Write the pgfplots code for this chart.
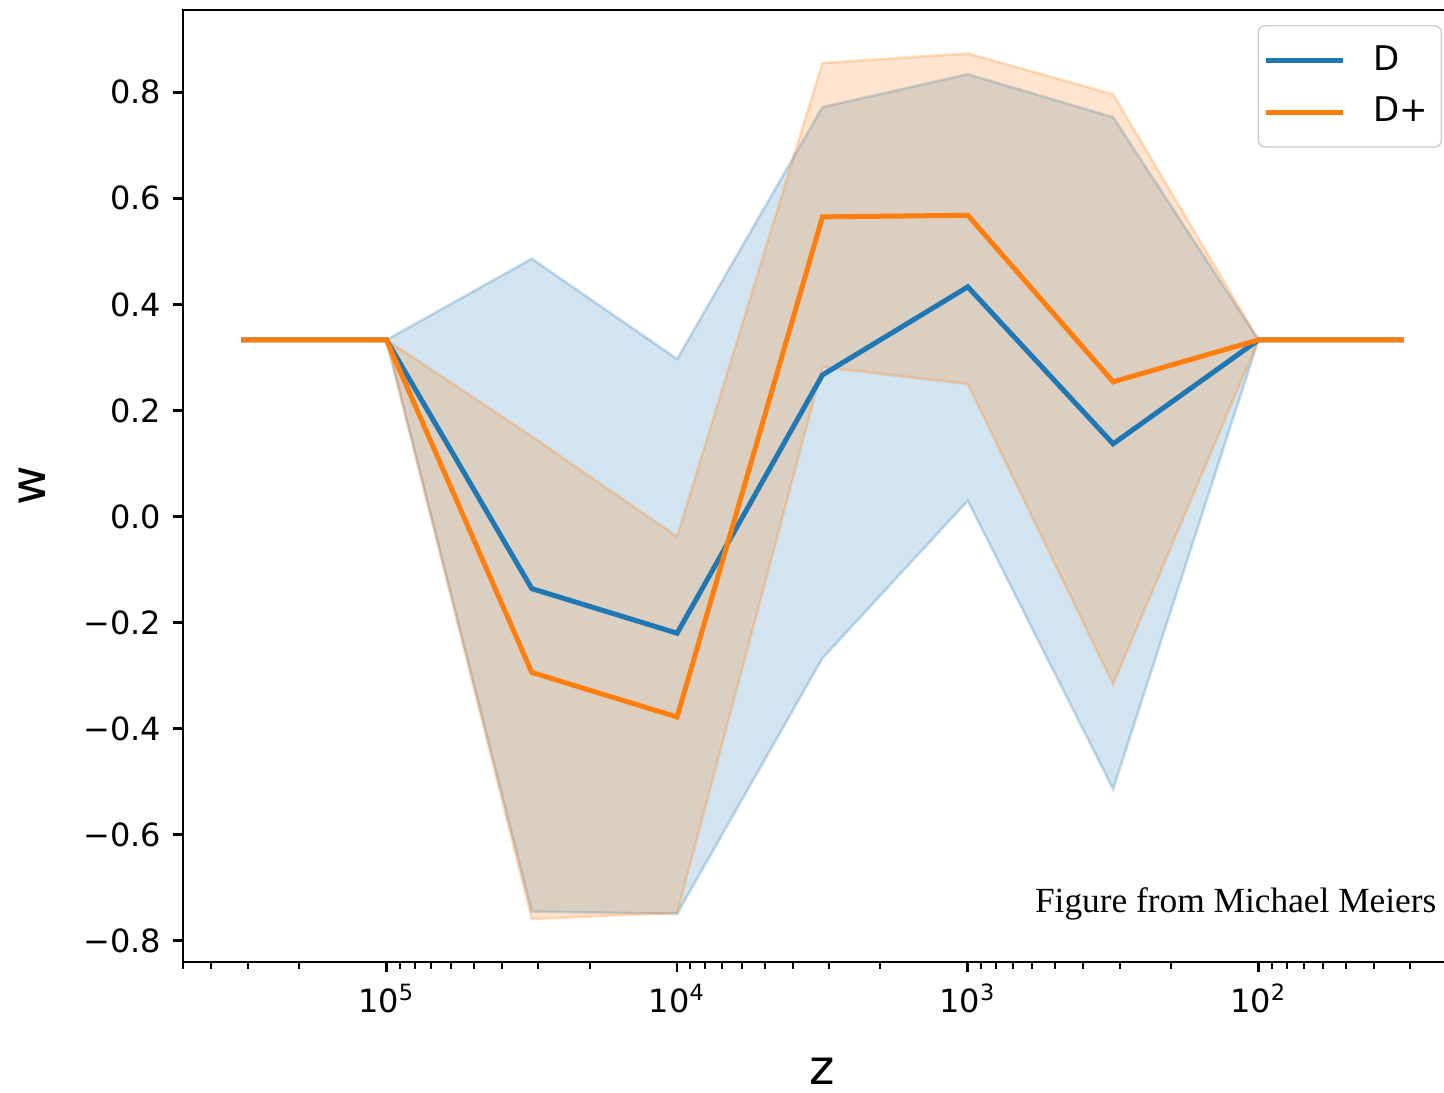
\documentclass[border=0pt]{standalone}
\usepackage{pgfplots}
\pgfplotsset{compat=1.18}
\usepackage{fontspec}
\setmainfont{DejaVu Sans}
\newfontfamily\serifnote{Liberation Serif}
\definecolor{tabblue}{HTML}{1F77B4}
\definecolor{taborange}{HTML}{FF7F0E}
\begin{document}
\begin{tikzpicture}
\begin{axis}[
  at={(0,0)}, anchor=south west,
  scale only axis, width=383.7pt, height=285.6pt,
  xmode=log, x dir=reverse,
  xmin=19.95, xmax=501187,
  ymin=-0.84, ymax=0.955,
  xtick={100,1000,10000,100000},
  xticklabels={10\textsuperscript{2},10\textsuperscript{3},10\textsuperscript{4},10\textsuperscript{5}},
  minor xtick={30,40,50,60,70,80,90,200,300,400,500,600,700,800,900,2000,3000,4000,5000,6000,7000,8000,9000,20000,30000,40000,50000,60000,70000,80000,90000,200000,300000,400000,500000},
  ytick={-0.8,-0.6,-0.4,-0.2,0,0.2,0.4,0.6,0.8},
  yticklabels={−0.8,−0.6,−0.4,−0.2,0.0,0.2,0.4,0.6,0.8},
  tick align=outside, xtick pos=bottom, ytick pos=left,
  major tick length=3pt, minor tick length=2pt,
  every tick/.style={black, line width=0.8pt},
  minor tick style={black, line width=0.6pt},
  tick label style={font=\fontsize{9.6}{11}\selectfont},
  axis line style={line width=0.8pt},
  xlabel={z}, ylabel={w},
  label style={font=\fontsize{14.5}{16}\selectfont},
  xlabel style={at={(axis description cs:0.5,-0.1145)}, anchor=center},
  ylabel style={at={(axis description cs:-0.118,0.5)}, anchor=center},
  legend style={at={(rel axis cs:0.9844,0.9842)}, anchor=north east,
    draw=black!20, rounded corners=2pt, fill=white,
    font=\fontsize{10.2}{12}\selectfont,
    inner xsep=1.5pt, inner ysep=3.5pt, row sep=1.5pt,
    nodes={inner sep=2.5pt},
    /tikz/every odd column/.append style={column sep=6pt}},
  legend cell align=left,
  legend image code/.code={\draw[#1] (0pt,0pt) -- (23pt,0pt);},
]
% bands
\addplot[forget plot, fill=tabblue, fill opacity=0.2, draw=tabblue, draw opacity=0.25, line width=0.8pt] coordinates {
 (100000,0.333) (31623,0.486) (10000,0.297) (3162.3,0.772) (1000,0.834) (316.23,0.753) (100,0.333)
 (316.23,-0.514) (1000,0.030) (3162.3,-0.267) (10000,-0.749) (31623,-0.745) } -- cycle;
\addplot[forget plot, fill=taborange, fill opacity=0.2, draw=taborange, draw opacity=0.25, line width=0.8pt] coordinates {
 (100000,0.333) (31623,0.151) (10000,-0.038) (3162.3,0.855) (1000,0.873) (316.23,0.796) (100,0.333)
 (316.23,-0.316) (1000,0.250) (3162.3,0.282) (10000,-0.747) (31623,-0.759) } -- cycle;
% lines
\addplot[tabblue, line width=1.5pt] coordinates {
 (316228,0.333) (100000,0.333) (31623,-0.136) (10000,-0.220) (3162.3,0.267) (1000,0.433) (316.23,0.137) (100,0.333) (31.623,0.333)};
\addlegendentry{D}
\addplot[taborange, line width=1.5pt] coordinates {
 (316228,0.333) (100000,0.333) (31623,-0.294) (10000,-0.378) (3162.3,0.565) (1000,0.568) (316.23,0.254) (100,0.333) (31.623,0.333)};
\addlegendentry{D+}
\node[anchor=base east, font=\serifnote\fontsize{10.6}{12}\selectfont, inner sep=0pt] at (axis description cs:0.9805,0.0515) {Figure from Michael Meiers};
\end{axis}
\pgfresetboundingbox
\useasboundingbox (-54.9pt,-39pt) rectangle (378.3pt,288.6pt);
\end{tikzpicture}
\end{document}
